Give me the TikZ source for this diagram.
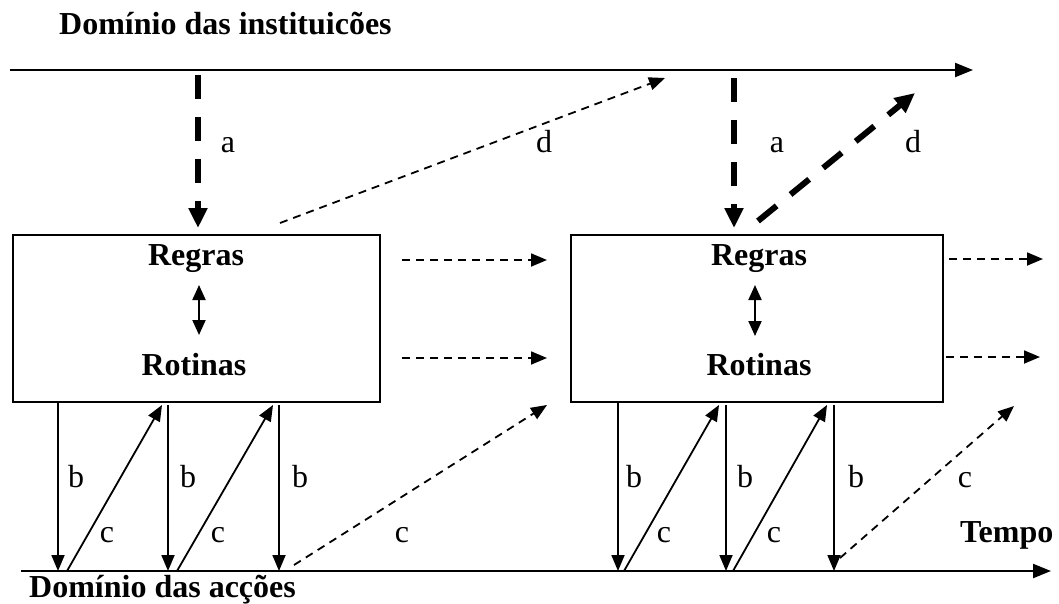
\documentclass[tikz,border=0pt]{standalone}
\usepackage{fontspec}
\setmainfont{Liberation Serif}
\usetikzlibrary{arrows.meta}
\begin{document}
\begin{tikzpicture}[x=1pt,y=-1pt,
  every node/.style={inner sep=0pt, font=\fontsize{32}{37}\selectfont},
  ttl/.style={font=\fontsize{32}{37}\selectfont\bfseries, anchor=base west},
  inbox/.style={font=\fontsize{32}{37}\selectfont\bfseries, anchor=base},
  lbl/.style={anchor=base},
  boxst/.style={draw, line width=2.5pt, minimum width=367pt, minimum height=167pt},
  tipst/.style={-{Triangle[length=16pt,width=13pt]}},
  axis/.style={line width=2.2pt, -{Triangle[length=18pt,width=14pt]}},
  solidarr/.style={line width=1.8pt, tipst},
  dblarr/.style={line width=2pt, {Triangle[length=15pt,width=13pt]}-{Triangle[length=15pt,width=13pt]}},
  dsharr/.style={line width=1.8pt, dash pattern=on 8pt off 6pt, tipst},
  thickdash/.style={line width=6pt, dash pattern=on 24pt off 18pt, -{Triangle[length=20pt,width=18pt]}}
]
\useasboundingbox (0,0) rectangle (1059,604);

% axes
\coordinate (T0) at (10,70);  \coordinate (T1) at (973,70);
\coordinate (B0) at (21,571); \coordinate (B1) at (1051,571);
\draw[axis] (T0) -- (T1);
\draw[axis] (B0) -- (B1);

% titles
\node[ttl] (ti) at (59,35) {Domínio das instituicões};
\node[ttl] (ta) at (29,597) {Domínio das acções};
\node[ttl] (tt) at (960,542) {Tempo};

% boxes
\node[boxst] (L) at (196.5,318.5) {};
\node[boxst, minimum width=372pt] (R) at (757,318.5) {};
\node[inbox] (Lreg) at (196,265) {Regras};
\node[inbox] (Lrot) at (194,375) {Rotinas};
\node[inbox] (Rreg) at (759,265) {Regras};
\node[inbox] (Rrot) at (759,375) {Rotinas};

% inner double arrows
\coordinate (Ld0) at (199,285); \coordinate (Ld1) at (199,335);
\coordinate (Rd0) at (755,285); \coordinate (Rd1) at (755,336);
\draw[dblarr] (Ld0) -- (Ld1);
\draw[dblarr] (Rd0) -- (Rd1);

% a arrows
\coordinate (La0) at (198,75); \coordinate (La1) at (198,228);
\coordinate (Ra0) at (734,78); \coordinate (Ra1) at (734,228);
\draw[thickdash] (La0) -- (La1);
\draw[thickdash] (Ra0) -- (Ra1);
\node[lbl] (la1) at (228,153) {a};
\node[lbl] (la2) at (777,153) {a};

% d arrows
\coordinate (Ld0d) at (280,223); \coordinate (Ld1d) at (665,78);
\draw[dsharr] (Ld0d) -- (Ld1d);
\coordinate (Rd0d) at (758,221); \coordinate (Rd1d) at (915,93);
\draw[thickdash] (Rd0d) -- (Rd1d);
\node[lbl] (ld1) at (544,153) {d};
\node[lbl] (ld2) at (913,153) {d};

% horizontal dashed arrows
\coordinate (h1a) at (402,260); \coordinate (h1b) at (547,260);
\coordinate (h2a) at (402,358); \coordinate (h2b) at (547,358);
\coordinate (h3a) at (949,259); \coordinate (h3b) at (1043,259);
\coordinate (h4a) at (946,357); \coordinate (h4b) at (1040,357);
\draw[dsharr] (h1a) -- (h1b);
\draw[dsharr] (h2a) -- (h2b);
\draw[dsharr] (h3a) -- (h3b);
\draw[dsharr] (h4a) -- (h4b);

% dashed c arrows
\coordinate (c1a) at (294,565); \coordinate (c1b) at (547,405);
\coordinate (c2a) at (840,558); \coordinate (c2b) at (1014,406);
\draw[dsharr] (c1a) -- (c1b);
\draw[dsharr] (c2a) -- (c2b);
\node[lbl] (lc1) at (402,542) {c};
\node[lbl] (lc2) at (965,487) {c};

% b arrows
\foreach \n/\x/\y in {1/58/402,2/168/405,3/279/405,4/618/402,5/726/405,6/834/405}{
  \coordinate (b\n a) at (\x,\y);
  \coordinate (b\n b) at (\x,571);
  \draw[solidarr] (b\n a) -- (b\n b);
}
\foreach \n/\x in {1/76,2/188,3/300,4/634,5/745,6/856}{
  \node[lbl] (lb\n) at (\x,487) {b};
}

% solid c arrows
\foreach \n/\xa/\xb in {1/67/162,2/177/273,3/624/719,4/733/827}{
  \coordinate (s\n a) at (\xa,571);
  \coordinate (s\n b) at (\xb,405);
  \draw[solidarr] (s\n a) -- (s\n b);
}
\foreach \n/\x in {1/107,2/218,3/664,4/774}{
  \node[lbl] (lsc\n) at (\x,542) {c};
}
\end{tikzpicture}
\end{document}
